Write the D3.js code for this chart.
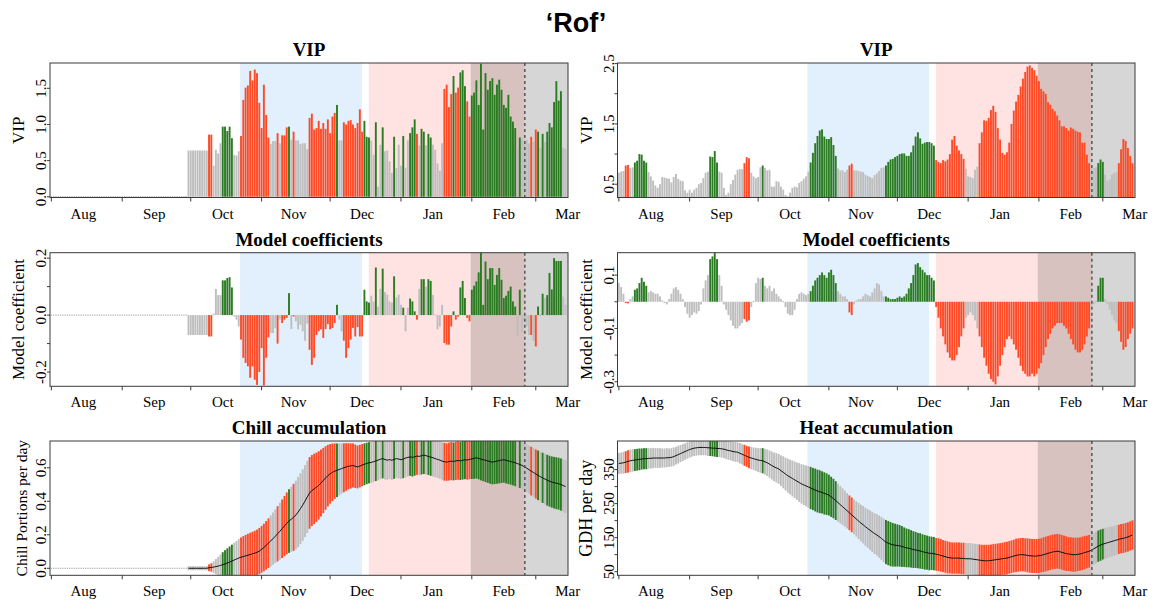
<!DOCTYPE html>
<html>
<head>
<meta charset="utf-8">
<title>PLS results Rof</title>
<script src="https://cdn.jsdelivr.net/npm/d3@7"></script>
<style>
  body { margin: 0; background: #ffffff; }
  text { font-family: "Liberation Serif", "Times New Roman", serif; fill: #000; }
  .main { font-family: "Liberation Sans", Arial, sans-serif; font-weight: bold; font-size: 27px; }
  .ptitle { font-weight: bold; font-size: 19px; }
  .mlab { font-size: 15px; }
  .ytl { font-size: 15px; }
  .ylab { font-size: 17px; }
</style>
</head>
<body>
<svg id="chart" width="1152" height="604"></svg>
<script>
// day 0 = 1 Aug, one value per day up to mid-March
var monthStarts = [0, 31, 61, 92, 122, 153, 184, 212];
var monthLabelDays = [14, 45, 75, 106, 136, 167, 198, 226];
var monthNames = ['Aug', 'Sep', 'Oct', 'Nov', 'Dec', 'Jan', 'Feb', 'Mar'];

var chillPeriod = [82.6, 135.9];
var heatPeriod = [138.9, 207.2];
var bloomRange = [183.5, 226.1];
var bloomMean = 207.2;

// chill side (Chill Portions)
var vipChill = [
  0,0,0,0,0,0,0,0,0,0, 0,0,0,0,0,0,0,0,0,0, 0,0,0,0,0,0,0,0,0,0,
  0,0,0,0,0,0,0,0,0,0, 0,0,0,0,0,0,0,0,0,0, 0,0,0,0,0,0,0,0,0,0,
  0.64,0.64,0.64,0.64,0.64,0.64,0.64,0.64,0.64,0.86, 0.86,0.43,0.65,0.60,0.74,0.97,0.97,0.91,0.97,0.81,
  0.58,0.57,0.63,0.84,1.34,1.51,1.54,1.74,1.61,1.76, 1.71,1.30,0.95,1.55,1.13,0.82,0.73,0.77,0.77,0.88,
  0.74,0.85,0.85,0.96,0.97,0.79,0.90,0.78,0.78,0.73, 0.74,0.74,0.66,1.09,1.15,0.93,0.95,1.05,0.94,1.02,
  0.94,1.07,0.88,1.11,1.16,1.27,0.78,0.78,1.03,1.00, 1.05,1.06,1.00,0.95,1.02,1.21,0.90,1.05,0.83,0.82,
  0.78,0.58,1.03,0.14,0.72,0.96,0.63,0.64,0.49,0.33, 0.83,0.40,0.72,0.43,0.84,0.40,0.78,0.88,0.96,1.07,
  0.87,0.71,0.94,0.90,0.71,0.87,0.82,0.72,0.65,0.46, 0.36,0.74,1.49,1.55,1.24,1.42,1.67,1.44,1.51,1.72,
  1.75,1.53,1.32,1.11,1.40,1.44,1.61,1.27,1.84,0.93, 1.71,1.48,1.60,1.64,1.41,1.55,1.62,1.48,1.27,1.23,
  1.41,1.11,1.04,0.95,0.68,0.82,0.79,0.76,0.79,0.74, 0.83,0.76,0.93,0.90,0.68,0.87,0.76,0.90,1.02,0.96,
  1.31,1.60,1.33,1.46,0.68,0.66
];
var coefChill = [
  0,0,0,0,0,0,0,0,0,0, 0,0,0,0,0,0,0,0,0,0, 0,0,0,0,0,0,0,0,0,0,
  0,0,0,0,0,0,0,0,0,0, 0,0,0,0,0,0,0,0,0,0, 0,0,0,0,0,0,0,0,0,0,
  -0.07,-0.07,-0.07,-0.07,-0.07,-0.07,-0.07,-0.07,-0.07,-0.075, -0.075,0.005,0.092,0.07,0.07,0.122,0.122,0.13,0.133,0.097,
  -0.005,-0.016,-0.04,-0.086,-0.15,-0.168,-0.18,-0.22,-0.18,-0.227, -0.245,-0.20,-0.116,-0.247,-0.15,-0.078,-0.063,-0.063,-0.046,-0.10,
  -0.016,-0.028,-0.016,-0.01,0.077,-0.049,-0.005,-0.022,-0.05,-0.034, -0.057,-0.09,-0.03,-0.122,-0.175,-0.15,-0.07,-0.057,-0.05,-0.08,
  -0.049,-0.032,-0.05,-0.045,-0.028,0.036,-0.016,-0.057,-0.09,-0.15, -0.116,-0.086,-0.045,-0.075,-0.042,-0.075,-0.075,0.089,0.048,0.044,
  0.068,0.048,0.167,0.03,0.092,0.163,0.081,0.072,0.048,0.044, 0.136,0.062,0.072,0.036,0.026,-0.057,0.026,0.058,0.048,0.013,
  -0.016,0.092,0.126,0.126,0.10,0.126,0.12,0.071,0.003,-0.05, -0.04,0.036,-0.098,-0.104,-0.104,-0.04,0.013,-0.016,-0.005,0.097,
  0.12,0.06,-0.01,-0.022,0.089,0.103,0.118,0.15,0.22,0.036, 0.188,0.126,0.165,0.165,0.106,0.141,0.165,0.124,0.06,0.068,
  0.085,0.10,0.048,0.03,-0.075,0.089,-0.06,-0.02,-0.04,-0.07, -0.07,-0.09,-0.11,0.03,0.0,0.075,0.06,0.07,0.148,0.09,
  0.20,0.19,0.19,0.19,0.065,0.036
];
var meanChill = [
  0,0,0,0,0,0,0,0,0,0, 0,0,0,0,0,0,0,0,0,0, 0,0,0,0,0,0,0,0,0,0,
  0,0,0,0,0,0,0,0,0,0, 0,0,0,0,0,0,0,0,0,0, 0,0,0,0,0,0,0,0,0,0,
  0,0,0,0,0,0,0,0,0,0.003, 0.005,0.007,0.010,0.013,0.017,0.021,0.026,0.031,0.037,0.043,
  0.049,0.055,0.061,0.066,0.070,0.074,0.078,0.082,0.086,0.090, 0.095,0.103,0.113,0.124,0.137,0.150,0.163,0.177,0.191,0.206,
  0.221,0.236,0.252,0.268,0.282,0.293,0.304,0.318,0.336,0.356, 0.377,0.401,0.426,0.450,0.464,0.474,0.484,0.495,0.509,0.524,
  0.539,0.553,0.564,0.573,0.580,0.585,0.590,0.595,0.600,0.605, 0.609,0.611,0.614,0.609,0.605,0.610,0.616,0.621,0.626,0.630,
  0.632,0.636,0.641,0.646,0.651,0.655,0.650,0.645,0.649,0.645, 0.650,0.655,0.652,0.648,0.652,0.658,0.662,0.665,0.662,0.666,
  0.670,0.668,0.672,0.676,0.672,0.668,0.664,0.660,0.655,0.650, 0.646,0.640,0.636,0.634,0.637,0.640,0.638,0.641,0.644,0.641,
  0.645,0.648,0.646,0.650,0.653,0.656,0.660,0.656,0.652,0.648, 0.645,0.641,0.637,0.634,0.637,0.640,0.643,0.646,0.648,0.645,
  0.641,0.638,0.634,0.630,0.625,0.620,0.614,0.606,0.598,0.589, 0.580,0.572,0.563,0.555,0.547,0.540,0.533,0.526,0.520,0.515,
  0.511,0.508,0.505,0.500,0.494,0.488
];
var sdChill = [
  0,0,0,0,0,0,0,0,0,0, 0,0,0,0,0,0,0,0,0,0, 0,0,0,0,0,0,0,0,0,0,
  0,0,0,0,0,0,0,0,0,0, 0,0,0,0,0,0,0,0,0,0, 0,0,0,0,0,0,0,0,0,0,
  0.012,0.012,0.012,0.012,0.012,0.012,0.012,0.012,0.012,0.02, 0.025,0.035,0.045,0.055,0.065,0.075,0.082,0.088,0.093,0.098,
  0.103,0.108,0.113,0.118,0.122,0.125,0.128,0.13,0.132,0.134, 0.136,0.138,0.14,0.142,0.145,0.148,0.152,0.156,0.16,0.165,
  0.17,0.175,0.18,0.185,0.19,0.195,0.2,0.205,0.21,0.212, 0.214,0.215,0.215,0.214,0.212,0.21,0.207,0.204,0.2,0.195,
  0.19,0.184,0.178,0.172,0.166,0.16,0.155,0.15,0.146,0.142, 0.138,0.135,0.132,0.13,0.128,0.127,0.126,0.125,0.124,0.123,
  0.122,0.121,0.12,0.121,0.119,0.118,0.119,0.117,0.116,0.117, 0.116,0.115,0.116,0.115,0.114,0.115,0.114,0.113,0.114,0.113,
  0.112,0.113,0.112,0.113,0.112,0.111,0.112,0.113,0.112,0.111, 0.112,0.112,0.113,0.112,0.113,0.114,0.113,0.114,0.115,0.114,
  0.115,0.116,0.117,0.118,0.12,0.122,0.124,0.125,0.127,0.128, 0.13,0.131,0.132,0.133,0.134,0.135,0.136,0.137,0.137,0.138,
  0.138,0.139,0.139,0.14,0.14,0.141,0.141,0.142,0.143,0.144, 0.145,0.146,0.147,0.148,0.149,0.15,0.151,0.152,0.152,0.153,
  0.154,0.155,0.155,0.156,0.157,0.158
];

// heat side (GDH)
var vipHeat = [
  0.69,0.71,0.72,0.81,0.82,0.77,0.78,0.86,0.89,1.00, 0.99,0.89,0.86,0.70,0.63,0.56,0.48,0.44,0.50,0.62,
  0.61,0.60,0.59,0.53,0.62,0.67,0.59,0.56,0.55,0.40, 0.36,0.41,0.36,0.41,0.44,0.50,0.52,0.60,0.69,0.71,
  0.96,0.95,1.05,0.86,0.71,0.69,0.44,0.32,0.36,0.50, 0.57,0.66,0.74,0.75,0.75,0.85,0.95,0.93,0.69,0.63,
  0.60,0.62,0.78,0.81,0.77,0.73,0.74,0.46,0.46,0.55, 0.54,0.46,0.41,0.32,0.30,0.36,0.44,0.46,0.45,0.52,
  0.55,0.59,0.63,0.71,0.86,1.02,1.18,1.30,1.39,1.41, 1.29,1.25,1.25,1.28,1.15,0.97,0.76,0.73,0.73,0.70,
  0.74,0.81,0.84,0.73,0.73,0.72,0.71,0.70,0.66,0.64, 0.62,0.60,0.65,0.68,0.72,0.77,0.78,0.81,0.87,0.91,
  0.92,0.95,0.97,1.00,1.01,1.01,0.97,0.97,1.03,1.14, 1.29,1.36,1.26,1.17,1.19,1.20,1.20,1.18,1.14,0.90,
  0.87,0.85,0.90,0.88,0.91,1.00,1.24,1.30,1.14,1.06, 1.00,0.92,0.76,0.63,0.62,0.60,0.74,0.79,1.18,1.36,
  1.56,1.55,1.60,1.73,1.80,1.70,1.43,1.24,1.02,0.99, 1.03,1.19,1.50,1.72,1.87,1.98,2.12,2.25,2.36,2.45,
  2.47,2.43,2.39,2.30,2.21,2.08,2.04,2.00,1.86,1.82, 1.75,1.71,1.64,1.56,1.46,1.46,1.43,1.39,1.44,1.42,
  1.39,1.37,1.36,1.19,1.19,0.99,0.85,0.77,0.77,0.78, 0.85,0.91,0.87,0.66,0.55,0.58,0.66,0.69,0.70,0.85,
  1.08,1.25,1.22,1.10,0.97,0.85
];
var coefHeat = [
  0.07,0.055,0.03,-0.005,-0.006,0.01,0.02,0.045,0.05,0.07, 0.09,0.075,0.06,0.035,0.04,0.035,0.03,0.03,0.02,0.005,
  -0.005,-0.01,0.01,0.03,0.05,0.055,0.045,0.03,0.01,-0.02, -0.045,-0.06,-0.05,-0.04,-0.045,-0.035,-0.01,0.05,0.08,0.10,
  0.16,0.17,0.20,0.16,0.10,0.06,-0.01,-0.03,-0.05,-0.07, -0.09,-0.10,-0.10,-0.09,-0.08,-0.065,-0.075,-0.07,-0.02,0.0,
  0.07,0.09,0.085,0.09,0.06,0.05,0.06,0.04,0.05,0.03, 0.02,0.01,0.0,-0.02,-0.045,-0.05,-0.05,-0.03,0.01,0.03,
  0.035,0.03,0.025,0.03,0.04,0.06,0.08,0.09,0.10,0.11, 0.10,0.09,0.11,0.12,0.10,0.07,0.04,0.03,0.02,0.02,
  0.01,-0.04,-0.05,-0.01,0.005,0.01,0.01,0.02,0.03,0.025, 0.02,0.035,0.05,0.07,0.065,0.04,0.02,0.02,0.015,0.01,
  0.01,0.01,0.015,0.02,0.015,0.02,0.03,0.05,0.07,0.10, 0.14,0.145,0.13,0.12,0.11,0.10,0.10,0.09,0.08,-0.02,
  -0.06,-0.10,-0.13,-0.16,-0.19,-0.21,-0.22,-0.22,-0.20,-0.17, -0.13,-0.10,-0.06,-0.05,-0.04,-0.05,-0.07,-0.10,-0.13,-0.17,
  -0.21,-0.24,-0.27,-0.29,-0.30,-0.31,-0.28,-0.24,-0.20,-0.17, -0.14,-0.13,-0.14,-0.16,-0.18,-0.21,-0.24,-0.26,-0.27,-0.28,
  -0.28,-0.27,-0.28,-0.27,-0.25,-0.23,-0.20,-0.17,-0.14,-0.12, -0.10,-0.09,-0.08,-0.08,-0.08,-0.09,-0.10,-0.12,-0.14,-0.16,
  -0.18,-0.19,-0.19,-0.18,-0.16,-0.13,-0.10,-0.02,-0.01,0.0, 0.06,0.09,0.09,0.01,-0.01,-0.03,-0.05,-0.07,-0.08,-0.11,
  -0.15,-0.18,-0.17,-0.14,-0.12,-0.10
];
var meanHeat = [
  368,369,370,372,374,376,377,378,379,380, 381,382,382,383,383,384,384,384,384,384,
  384,385,385,386,388,391,394,397,400,403, 406,409,411,413,414,415,415,415,415,414,
  414,413,413,412,412,411,410,408,406,405, 403,402,401,398,395,392,389,386,384,382,
  380,378,377,376,373,370,366,362,358,355, 352,347,342,337,332,328,324,320,316,312,
  308,305,302,299,296,293,290,287,285,283, 280,278,275,270,265,259,253,247,241,235,
  229,223,217,211,205,199,193,188,182,177, 172,167,162,158,153,148,142,137,134,131,
  129,128,127,126,124,122,120,119,117,115, 114,112,111,109,107,106,104,104,103,101,
  100,98,96,94,92,91,90,90,90,90, 89,89,88,88,88,87,86,85,84,83,
  82,82,82,83,84,85,86,87,88,89, 90,92,94,96,98,99,100,100,99,98,
  97,96,96,96,97,98,100,102,104,106, 108,109,110,109,107,105,103,102,101,100,
  100,101,102,104,106,108,110,113,117,121, 125,128,131,133,135,137,139,141,143,145,
  147,148,150,152,155,158
];
var sdHeat = [
  31,31,32,32,33,33,33,32,32,32, 31,31,31,30,30,30,29,29,29,28,
  28,28,27,27,27,26,26,25,25,24, 24,24,23,23,23,23,23,23,23,24,
  24,24,25,25,25,26,26,27,27,28, 28,29,29,30,30,31,31,32,33,33,
  34,35,36,37,38,39,40,41,42,43, 44,45,47,48,50,51,53,54,55,57,
  58,59,60,61,62,62,63,63,63,62, 62,61,60,59,58,57,56,55,54,53,
  52,51,51,51,52,53,54,55,56,57, 58,59,60,61,62,63,64,65,65,65,
  64,63,62,61,60,58,57,56,55,54, 53,52,52,51,51,50,50,49,49,48,
  48,48,47,47,47,46,46,46,46,46, 46,46,46,46,46,46,46,46,46,46,
  47,47,47,47,47,47,47,47,47,48, 48,48,48,48,49,49,49,49,49,50,
  50,50,50,50,50,50,51,51,51,51, 51,51,51,51,51,51,51,50,50,50,
  50,49,49,49,49,48,48,48,47,47, 46,46,45,45,45,44,44,44,44,43,
  43,43,43,43,43,43
];

var colours = { pos: '#2a7b22', neg: '#ff4a26', ns: '#bebebe', zero: '#9a9a9a' };
var bg = { chill: '#e2effc', heat: '#ffe2e2', both: '#d7c2bf', bloom: '#d6d6d6' };

function barColour(vip, coef) {
    if (vip > 0.8) { return coef > 0 ? colours.pos : colours.neg; }
    return colours.ns;
}

var svg = d3.select('#chart');
var dayDomain = [-0.6, 226.1];
var colX = [[50, 568], [617.5, 1135]];
var rowY = [[63, 197.5], [252.7, 386.3], [441, 575.3]];
var days = d3.range(vipChill.length);

svg.append('text').attr('class', 'main')
   .attr('x', 576).attr('y', 32).attr('text-anchor', 'middle')
   .text('\u2018Rof\u2019');

function makePanel(col, row, yDomain, title, ylab, yTicks, yLabels, ylabSize, ylabOff) {
    var x0 = colX[col][0], x1 = colX[col][1];
    var y0 = rowY[row][0], y1 = rowY[row][1];
    var xs = d3.scaleLinear().domain(dayDomain).range([x0, x1]);
    var ys = d3.scaleLinear().domain(yDomain).range([y1, y0]);
    var g = svg.append('g');
    var id = 'clip' + col + row;

    g.append('clipPath').attr('id', id).append('rect')
     .attr('x', x0).attr('y', y0).attr('width', x1 - x0).attr('height', y1 - y0);

    var plot = g.append('g').attr('clip-path', 'url(#' + id + ')');

    function band(a, b, fill) {
        plot.append('rect').attr('x', xs(a)).attr('y', y0)
            .attr('width', xs(b) - xs(a)).attr('height', y1 - y0).attr('fill', fill);
    }
    band(chillPeriod[0], chillPeriod[1], bg.chill);
    band(heatPeriod[0], bloomRange[0], bg.heat);
    band(bloomRange[0], bloomMean, bg.both);
    band(bloomMean, bloomRange[1], bg.bloom);

    // box
    g.append('rect').attr('x', x0).attr('y', y0).attr('width', x1 - x0).attr('height', y1 - y0)
     .attr('fill', 'none').attr('stroke', '#3a3a3a').attr('stroke-width', 1);

    // x axis: ticks at month starts, names mid-month
    g.selectAll('.xt').data(monthStarts).enter().append('line')
     .attr('x1', function(d) { return xs(d); }).attr('x2', function(d) { return xs(d); })
     .attr('y1', y1).attr('y2', y1 + 4).attr('stroke', '#3a3a3a');
    g.selectAll('.ml').data(monthNames).enter().append('text')
     .attr('class', 'mlab').attr('text-anchor', 'middle')
     .attr('x', function(d, i) { return xs(monthLabelDays[i]); })
     .attr('y', y1 + 21)
     .text(function(d) { return d; });

    // y axis
    g.selectAll('.yt').data(yTicks).enter().append('line')
     .attr('x1', x0 - 3).attr('x2', x0)
     .attr('y1', function(d) { return ys(d); }).attr('y2', function(d) { return ys(d); })
     .attr('stroke', '#3a3a3a');
    g.selectAll('.ytl').data(yLabels).enter().append('text')
     .attr('class', 'ytl').attr('text-anchor', 'middle')
     .attr('transform', function(d) { return 'translate(' + (x0 - 4) + ',' + ys(+d) + ') rotate(-90)'; })
     .text(function(d) { return d; });

    g.append('text').attr('class', 'ylab').attr('text-anchor', 'middle')
     .style('font-size', ylabSize + 'px')
     .attr('transform', 'translate(' + (x0 - ylabOff) + ',' + ((y0 + y1) / 2) + ') rotate(-90)')
     .text(ylab);

    g.append('text').attr('class', 'ptitle').attr('text-anchor', 'middle')
     .attr('x', (x0 + x1) / 2).attr('y', y0 - 7).text(title);

    return { g: g, plot: plot, xs: xs, ys: ys, y0: y0, y1: y1 };
}

function dashed(p) {
    p.plot.append('line')
     .attr('x1', p.xs(bloomMean)).attr('x2', p.xs(bloomMean))
     .attr('y1', p.y0).attr('y2', p.y1)
     .attr('stroke', '#555').attr('stroke-width', 1.5).attr('stroke-dasharray', '3,3');
}

var barW = 1.9;

function drawBars(p, values, vip, coef) {
    p.plot.selectAll('.bar').data(days).enter().append('rect')
     .attr('x', function(d) { return p.xs(d) - (values[d] === 0 ? 0.6 : barW / 2); })
     .attr('width', function(d) { return values[d] === 0 ? 1.2 : barW; })
     .attr('y', function(d) {
         var a = p.ys(values[d]), b = p.ys(0);
         return Math.abs(a - b) < 1 ? b - 0.5 : Math.min(a, b);
     })
     .attr('height', function(d) {
         var h = Math.abs(p.ys(values[d]) - p.ys(0));
         return h < 1 ? 1 : h;
     })
     .attr('fill', function(d) { return values[d] === 0 ? colours.zero : barColour(vip[d], coef[d]); });
}

function drawRange(p, mean, sd, vip, coef) {
    p.plot.selectAll('.bar').data(days).enter().append('rect')
     .attr('x', function(d) { return p.xs(d) - (sd[d] === 0 ? 0.6 : barW / 2); })
     .attr('width', function(d) { return sd[d] === 0 ? 1.2 : barW; })
     .attr('y', function(d) {
         var h = p.ys(mean[d] - sd[d]) - p.ys(mean[d] + sd[d]);
         return h < 1 ? p.ys(mean[d]) - 0.5 : p.ys(mean[d] + sd[d]);
     })
     .attr('height', function(d) {
         var h = p.ys(mean[d] - sd[d]) - p.ys(mean[d] + sd[d]);
         return h < 1 ? 1 : h;
     })
     .attr('fill', function(d) { return sd[d] === 0 ? colours.zero : barColour(vip[d], coef[d]); });
    p.plot.append('path').datum(days)
     .attr('fill', 'none').attr('stroke', '#111').attr('stroke-width', 1)
     .attr('d', d3.line()
        .defined(function(d) { return sd[d] > 0; })
        .x(function(d) { return p.xs(d); })
        .y(function(d) { return p.ys(mean[d]); }));
}

// left column: chill
var p1 = makePanel(0, 0, [-0.01, 1.85], 'VIP', 'VIP', [0, 0.5, 1, 1.5], ['0.0', '0.5', '1.0', '1.5'], 17, 26);
drawBars(p1, vipChill, vipChill, coefChill); dashed(p1);

var p2 = makePanel(0, 1, [-0.25, 0.219], 'Model coefficients', 'Model coefficient',
                   [-0.2, -0.1, 0, 0.1, 0.2], ['-0.2', '0.0', '0.2'], 17, 26);
drawBars(p2, coefChill, vipChill, coefChill); dashed(p2);

var p3 = makePanel(0, 2, [-0.042, 0.76], 'Chill accumulation', 'Chill Portions per day',
                   [0, 0.2, 0.4, 0.6], ['0.0', '0.2', '0.4', '0.6'], 15.5, 23);
drawRange(p3, meanChill, sdChill, vipChill, coefChill); dashed(p3);

// right column: heat
var p4 = makePanel(1, 0, [0.28, 2.51], 'VIP', 'VIP', [0.5, 1, 1.5, 2, 2.5], ['0.5', '1.5', '2.5'], 17, 26);
drawBars(p4, vipHeat, vipHeat, coefHeat); dashed(p4);

var p5 = makePanel(1, 1, [-0.317, 0.184], 'Model coefficients', 'Model coefficient',
                   [-0.3, -0.2, -0.1, 0, 0.1], ['-0.3', '-0.1', '0.1'], 17, 26);
drawBars(p5, coefHeat, vipHeat, coefHeat); dashed(p5);

var p6 = makePanel(1, 2, [39.4, 434], 'Heat accumulation', 'GDH per day',
                   [50, 100, 150, 200, 250, 300, 350], ['50', '150', '250', '350'], 18, 26);
drawRange(p6, meanHeat, sdHeat, vipHeat, coefHeat); dashed(p6);
</script>
</body>
</html>
